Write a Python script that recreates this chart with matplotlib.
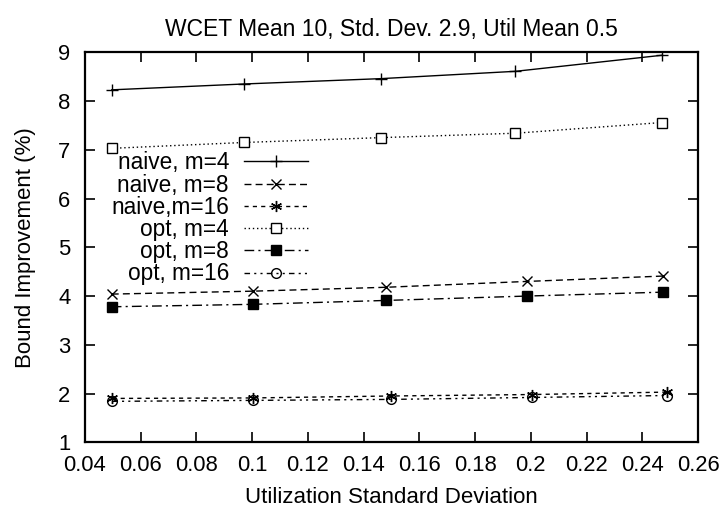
import matplotlib
matplotlib.use("Agg")
import matplotlib.pyplot as plt

plt.rcParams['font.family'] = ['Liberation Sans', 'DejaVu Sans']

title = "WCET Mean 10, Std. Dev. 2.9, Util Mean 0.5"
xlabel = "Utilization Standard Deviation"
ylabel = "Bound Improvement (%)"

labels = ["naive, m=4", "naive, m=8", "naive,m=16", "opt, m=4", "opt, m=8", "opt, m=16"]

x_m4 = [0.0496, 0.097, 0.1463, 0.1945, 0.2472]
x_m8 = [0.0496, 0.1002, 0.148, 0.1987, 0.2474]
x_m16 = [0.0498, 0.1002, 0.1499, 0.2005, 0.249]

naive_m4 = [8.23, 8.35, 8.46, 8.61, 8.94]
naive_m8 = [4.04, 4.10, 4.18, 4.30, 4.41]
naive_m16 = [1.90, 1.91, 1.95, 1.98, 2.03]
opt_m4 = [7.03, 7.15, 7.25, 7.34, 7.56]
opt_m8 = [3.78, 3.83, 3.91, 4.00, 4.08]
opt_m16 = [1.84, 1.86, 1.88, 1.92, 1.96]

xticks = [0.04, 0.06, 0.08, 0.1, 0.12, 0.14, 0.16, 0.18, 0.2, 0.22, 0.24, 0.26]
xtick_labels = ["0.04", "0.06", "0.08", "0.1", "0.12", "0.14", "0.16", "0.18", "0.2", "0.22", "0.24", "0.26"]
yticks = [1, 2, 3, 4, 5, 6, 7, 8, 9]

fig = plt.figure(figsize=(7.26, 5.11), dpi=100)
ax = fig.add_axes([85/726, 1 - 442.3/511, 613/726, 390/511])

FS = 16
series = [
    (x_m4, naive_m4, dict(marker='+', linestyle='-', markersize=8, mfc='none')),
    (x_m8, naive_m8, dict(marker='x', linestyle=(0, (5, 3)), markersize=7, mfc='none')),
    (x_m16, naive_m16, dict(marker=(6, 2, 0), linestyle=(0, (3, 3)), markersize=8, mfc='none')),
    (x_m4, opt_m4, dict(marker='s', linestyle=(0, (1, 2)), markersize=7, mfc='white')),
    (x_m8, opt_m8, dict(marker='s', linestyle=(0, (7, 3, 1.5, 3)), markersize=7.5, mfc='black')),
    (x_m16, opt_m16, dict(marker='o', linestyle=(0, (4, 3, 1.5, 3, 1.5, 3)), markersize=7, mfc='none')),
]
for (xs, ys, st), lab in zip(series, labels):
    ax.plot(xs, ys, color='black', linewidth=1.0, mec='black', mew=1.0, label=lab, **st)

ax.set_xlim(0.04, 0.26)
ax.set_ylim(1, 9)
ax.set_xticks(xticks)
ax.set_xticklabels(xtick_labels)
ax.set_yticks(yticks)
ax.tick_params(direction='in', length=7, width=1.2, top=True, right=True,
               labelsize=15.8)
ax.tick_params(axis='x', pad=9)
ax.tick_params(axis='y', pad=10.5)
for sp in ax.spines.values():
    sp.set_linewidth(1.6)

ax.set_title(title, fontsize=16.5, pad=12)
ax.set_xlabel(xlabel, fontsize=FS, labelpad=8)
ax.set_ylabel(ylabel, fontsize=FS, labelpad=16)

leg = ax.legend(loc='upper right', bbox_to_anchor=((308 - 85) / 613, (442.3 - 151.4) / 390),
                frameon=False, markerfirst=False, fontsize=16.3,
                handlelength=2.83, handletextpad=0.66, labelspacing=-0.035,
                borderpad=0, borderaxespad=0)

fig.savefig("out.png", dpi=100)
